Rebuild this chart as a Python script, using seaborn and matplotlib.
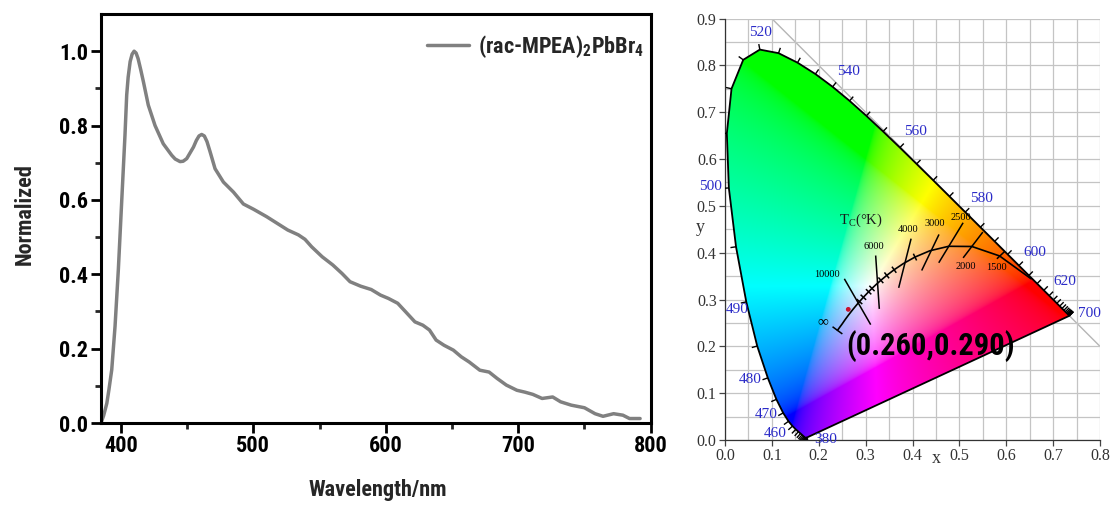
import numpy as np
import pandas as pd
import matplotlib
matplotlib.use("Agg")
import matplotlib.pyplot as plt
import seaborn as sns
from matplotlib import font_manager
from matplotlib.font_manager import FontProperties
from matplotlib.patches import Polygon
from matplotlib.collections import LineCollection
from matplotlib.ticker import FormatStrFormatter

# ---------------- data: PL spectrum ----------------
wavelength_nm = [385, 387, 389.4, 391, 393.1, 395.6, 398.1, 400.6, 403.1, 404.4, 405.5, 407,
                 408.5, 410, 411.5, 413, 415, 417, 420.7, 425.8, 432, 438.4, 441, 444.7,
                 447, 449.7, 452, 454.8, 457, 459, 461, 463, 465, 467.4, 471.1, 477.4, 485,
                 492.5, 500.1, 510, 518, 526, 534, 539, 544, 552, 560, 567, 573, 581, 589,
                 596, 602, 609, 615, 622, 628, 633, 638, 644, 651, 657, 663, 671, 678, 684,
                 691, 699, 705, 711, 718, 726, 732, 740, 750, 758, 764, 772, 779, 784, 792]
intensity = [0.0, 0.02, 0.053, 0.09, 0.143, 0.26, 0.413, 0.594, 0.774, 0.882, 0.93, 0.972,
             0.992, 1.0, 0.995, 0.98, 0.95, 0.918, 0.855, 0.80, 0.751, 0.72, 0.71, 0.703,
             0.704, 0.711, 0.725, 0.742, 0.76, 0.772, 0.776, 0.772, 0.757, 0.729, 0.684,
             0.648, 0.621, 0.589, 0.575, 0.555, 0.537, 0.519, 0.506, 0.494, 0.474, 0.447,
             0.425, 0.402, 0.380, 0.368, 0.359, 0.344, 0.335, 0.322, 0.299, 0.272, 0.263,
             0.25, 0.223, 0.209, 0.196, 0.178, 0.164, 0.142, 0.137, 0.12, 0.102, 0.088,
             0.083, 0.077, 0.066, 0.07, 0.057, 0.048, 0.041, 0.025, 0.018, 0.025, 0.021,
             0.012, 0.012]
legend_label = "(rac-MPEA)$_2$PbBr$_4$"
spec_xticks = [400, 500, 600, 700, 800]
spec_xminor = [450, 550, 650, 750]
spec_yticks = [0.0, 0.2, 0.4, 0.6, 0.8, 1.0]
spec_yminor = [0.1, 0.3, 0.5, 0.7, 0.9]

# ---------------- data: CIE 1931 diagram ----------------
locus_nm = list(range(380, 705, 5))
locus_x = [0.1741, 0.1740, 0.1738, 0.1736, 0.1733, 0.1730, 0.1726, 0.1721, 0.1714, 0.1703,
           0.1689, 0.1669, 0.1644, 0.1611, 0.1566, 0.1510, 0.1440, 0.1355, 0.1241, 0.1096,
           0.0913, 0.0687, 0.0454, 0.0235, 0.0082, 0.0039, 0.0139, 0.0389, 0.0743, 0.1142,
           0.1547, 0.1929, 0.2296, 0.2658, 0.3016, 0.3373, 0.3731, 0.4087, 0.4441, 0.4788,
           0.5125, 0.5448, 0.5752, 0.6029, 0.6270, 0.6482, 0.6658, 0.6801, 0.6915, 0.7006,
           0.7079, 0.7140, 0.7190, 0.7230, 0.7260, 0.7283, 0.7300, 0.7311, 0.7320, 0.7327,
           0.7334, 0.7340, 0.7344, 0.7346, 0.7347]
locus_y = [0.0050, 0.0050, 0.0049, 0.0049, 0.0048, 0.0048, 0.0048, 0.0048, 0.0051, 0.0058,
           0.0069, 0.0086, 0.0109, 0.0138, 0.0177, 0.0227, 0.0297, 0.0399, 0.0578, 0.0868,
           0.1327, 0.2007, 0.2950, 0.4127, 0.5384, 0.6548, 0.7502, 0.8120, 0.8338, 0.8262,
           0.8059, 0.7816, 0.7543, 0.7243, 0.6923, 0.6589, 0.6245, 0.5896, 0.5547, 0.5202,
           0.4866, 0.4544, 0.4242, 0.3965, 0.3725, 0.3514, 0.3340, 0.3197, 0.3083, 0.2993,
           0.2920, 0.2859, 0.2809, 0.2770, 0.2740, 0.2717, 0.2700, 0.2689, 0.2680, 0.2673,
           0.2666, 0.2660, 0.2656, 0.2654, 0.2653]
labeled_nm = [380, 460, 470, 480, 490, 500, 520, 540, 560, 580, 600, 620, 700]

planck_T = [1000, 1500, 2000, 2500, 3000, 3500, 4000, 4500, 5000, 5500, 6000, 6500, 7000,
            8000, 9000, 10000, 12000, 15000, 20000, 30000, "inf"]
planck_x = [0.6528, 0.5857, 0.5267, 0.4770, 0.4369, 0.4053, 0.3805, 0.3608, 0.3451, 0.3325,
            0.3221, 0.3135, 0.3064, 0.2952, 0.2869, 0.2807, 0.2720, 0.2637, 0.2565, 0.2501,
            0.2399]
planck_y = [0.3444, 0.3931, 0.4133, 0.4137, 0.4041, 0.3907, 0.3768, 0.3636, 0.3516, 0.3411,
            0.3318, 0.3237, 0.3166, 0.3048, 0.2956, 0.2884, 0.2778, 0.2672, 0.2574, 0.2481,
            0.2342]
small_tick_T = [9000, 8000, 7000, 6500, 5500, 5000, 4500, 3500]

iso_labels = ["10000", "6000", "4000", "3000", "2500", "2000", "1500"]
iso_x_top = [0.2546, 0.3214, 0.3970, 0.4565, 0.5080, 0.5500, 0.5970]
iso_y_top = [0.3443, 0.3940, 0.4300, 0.4390, 0.4640, 0.4440, 0.4030]
iso_x_bot = [0.3108, 0.3292, 0.3705, 0.4196, 0.4560, 0.5080, 0.5800]
iso_y_bot = [0.2464, 0.2800, 0.3250, 0.3620, 0.3785, 0.3890, 0.3870]

cie_xticks = [0.0, 0.1, 0.2, 0.3, 0.4, 0.5, 0.6, 0.7, 0.8]
cie_yticks = [0.0, 0.1, 0.2, 0.3, 0.4, 0.5, 0.6, 0.7, 0.8, 0.9]
cie_grid_x = [0.05, 0.15, 0.25, 0.35, 0.45, 0.55, 0.65, 0.75]
cie_grid_y = [0.05, 0.15, 0.25, 0.35, 0.45, 0.55, 0.65, 0.75, 0.85]
point_label = "(0.260,0.290)"
point_x = [0.263]
point_y = [0.279]

# ---------------- fonts ----------------
sns.set_style("ticks")
names = {f.name for f in font_manager.fontManager.ttflist}
narrow = None
for cand in ["Liberation Sans Narrow", "Roboto Condensed", "Open Sans Condensed", "Arial Narrow"]:
    if cand in names:
        narrow = cand
        break
bold_family = narrow if narrow else "Liberation Sans"
scale = 1.0 if narrow else 0.86
serif = ["Liberation Serif", "DejaVu Serif"]
plt.rcParams["font.family"] = ["Liberation Sans", "DejaVu Sans"]
plt.rcParams["mathtext.default"] = "regular"


def bold(size):
    return FontProperties(family=bold_family, weight="bold", size=size * scale)


fig = plt.figure(figsize=(11.15, 5.05), dpi=100)
ax1 = fig.add_axes([101 / 1115, 1 - 423 / 505, (650.7 - 101) / 1115, (423 - 14) / 505])
ax2 = fig.add_axes([725 / 1115, 1 - 440 / 505, 375 / 1115, (440 - 18.6) / 505])

# ---------------- left: spectrum ----------------
df = pd.DataFrame({"Wavelength": wavelength_nm, "Normalized": intensity, "Sample": legend_label})
sns.lineplot(data=df, x="Wavelength", y="Normalized", hue="Sample", palette=["#808080"],
             linewidth=2.5, ax=ax1, solid_joinstyle="round", solid_capstyle="round")
ax1.set_xlim(385, 800)
ax1.set_ylim(0, 1.1)
ax1.set_xticks(spec_xticks)
ax1.set_xticks(spec_xminor, minor=True)
ax1.set_yticks(spec_yticks)
ax1.set_yticks(spec_yminor, minor=True)
ax1.yaxis.set_major_formatter(FormatStrFormatter("%.1f"))
ax1.tick_params(which="major", direction="out", length=7, width=2, pad=2,
                top=False, right=False, colors="black")
ax1.tick_params(which="minor", direction="out", length=4, width=2, top=False, right=False)
for s in ax1.spines.values():
    s.set_linewidth(2.2)
    s.set_color("black")
    s.set_visible(True)
for lab in ax1.get_xticklabels() + ax1.get_yticklabels():
    lab.set_fontproperties(bold(16))
ax1.set_xlabel("Wavelength/nm", fontproperties=bold(16))
ax1.set_ylabel("Normalized", fontproperties=bold(16))
h, l = ax1.get_legend_handles_labels()
ax1.legend(h, l, loc="center right", bbox_to_anchor=(1.0, 0.92), frameon=False,
           prop=bold(16), handlelength=1.9, handletextpad=0.4, borderaxespad=0,
           borderpad=0.3)

# ---------------- right: CIE diagram ----------------
# colour fill
gx, gy = np.meshgrid(np.linspace(0, 0.8, 640), np.linspace(0, 0.9, 720))
gys = np.maximum(gy, 1e-4)
XYZ = np.stack([gx / gys, np.ones_like(gx), (1 - gx - gy) / gys])
M = np.array([[3.2406, -1.5372, -0.4986], [-0.9689, 1.8758, 0.0415], [0.0557, -0.2040, 1.0570]])
rgb = np.einsum("ij,jab->abi", M, XYZ)
rgb = np.clip(rgb, 0, None)
rgb = rgb / np.maximum(rgb.max(axis=2, keepdims=True), 1e-9)
rgb = np.where(rgb <= 0.0031308, 12.92 * rgb, 1.055 * np.power(rgb, 1 / 2.4) - 0.055)
rgb = np.clip(rgb, 0, 1)
im = ax2.imshow(rgb, extent=(0, 0.8, 0, 0.9), origin="lower", aspect="auto",
                interpolation="bilinear", zorder=1)
clip = Polygon(np.column_stack([locus_x, locus_y]), closed=True, facecolor="none",
               edgecolor="none", transform=ax2.transData)
ax2.add_patch(clip)
im.set_clip_path(clip)

# locus outline
outline = pd.DataFrame({"x": locus_x + [locus_x[0]], "y": locus_y + [locus_y[0]]})
sns.lineplot(data=outline, x="x", y="y", sort=False, estimator=None, color="black",
             linewidth=1.3, ax=ax2, zorder=3)

# x + y = 1 line
diag_x = np.array([0.1, 0.8])
ax2.plot(diag_x, 1 - diag_x, color="#b5b5b5", linewidth=1.0, zorder=0.5)

# wavelength ticks along the locus
lx = np.array(locus_x)
ly = np.array(locus_y)
tx = np.gradient(lx)
ty = np.gradient(ly)
tn = np.hypot(tx, ty) + 1e-12
nx, ny = -ty / tn, tx / tn
tick_len = 0.012
segs = [[(lx[i], ly[i]), (lx[i] + tick_len * nx[i], ly[i] + tick_len * ny[i])]
        for i in range(len(lx))]
ax2.add_collection(LineCollection(segs, colors="black", linewidths=1.0, zorder=3))

label_offsets = {380: (19, -2), 460: (-17, -7), 470: (-17, -2), 480: (-18, -2),
                 490: (-9, -8), 500: (-18, 1), 520: (1, 17), 540: (16, 15),
                 560: (16, 16), 580: (16, 14), 600: (16, 13), 620: (16, 14), 700: (20, 2)}
for nm in labeled_nm:
    i = locus_nm.index(nm)
    ax2.annotate(str(nm), (lx[i], ly[i]), xytext=label_offsets[nm], textcoords="offset pixels",
                 ha="center", va="center", family=serif, fontsize=11, color="#2b2bc8",
                 zorder=5)

# Planckian locus
planck = pd.DataFrame({"x": planck_x, "y": planck_y})
sns.lineplot(data=planck, x="x", y="y", sort=False, estimator=None, color="black",
             linewidth=1.2, ax=ax2, zorder=4)
px_ = np.array(planck_x)
py_ = np.array(planck_y)
ptx = np.gradient(px_)
pty = np.gradient(py_)
ptn = np.hypot(ptx, pty)
pnx, pny = -pty / ptn, ptx / ptn
psegs = []
for T in small_tick_T:
    i = planck_T.index(T)
    psegs.append([(px_[i] - 0.008 * pnx[i], py_[i] - 0.008 * pny[i]),
                  (px_[i] + 0.008 * pnx[i], py_[i] + 0.008 * pny[i])])
i = planck_T.index("inf")
psegs.append([(px_[i] - 0.013 * pnx[i], py_[i] - 0.013 * pny[i]),
              (px_[i] + 0.013 * pnx[i], py_[i] + 0.013 * pny[i])])
for k in range(len(iso_labels)):
    psegs.append([(iso_x_top[k], iso_y_top[k]), (iso_x_bot[k], iso_y_bot[k])])
ax2.add_collection(LineCollection(psegs, colors="black", linewidths=1.1, zorder=4))

iso_offsets = {"10000": ("top", (-17, 4)), "6000": ("top", (-2, 9)), "4000": ("top", (-3, 9)),
               "3000": ("top", (-4, 11)), "2500": ("top", (-2, 5)), "2000": ("bot", (3, -9)),
               "1500": ("bot", (0, -9))}
for k, lab in enumerate(iso_labels):
    end, off = iso_offsets[lab]
    xy = (iso_x_top[k], iso_y_top[k]) if end == "top" else (iso_x_bot[k], iso_y_bot[k])
    ax2.annotate(lab, xy, xytext=off, textcoords="offset pixels", ha="center", va="center",
                 family=serif, fontsize=7.5, color="black", zorder=5)
ax2.annotate("T$_\\mathregular{C}$(°K)", (0.29, 0.47), ha="center", va="center",
             family=serif, fontsize=10.5, color="#1a1a1a", zorder=5)
i = planck_T.index("inf")
ax2.annotate("∞", (px_[i], py_[i]), xytext=(-15, 9), textcoords="offset pixels",
             ha="center", va="center", family=serif, fontsize=11, color="black", zorder=5)

# sample point
sns.scatterplot(x=point_x, y=point_y, color="#c8102e", s=12, edgecolor="none", ax=ax2, zorder=6)
ax2.annotate(point_label, (point_x[0], point_y[0]), xytext=(82, -37),
             textcoords="offset pixels", ha="center", va="center",
             fontproperties=bold(22), color="black", zorder=7)

# axes styling for the CIE panel (after seaborn calls)
ax2.set_xlim(0, 0.8)
ax2.set_ylim(0, 0.9)
ax2.set_xticks(cie_xticks)
ax2.set_yticks(cie_yticks)
ax2.set_xticks(cie_grid_x, minor=True)
ax2.set_yticks(cie_grid_y, minor=True)
ax2.xaxis.set_major_formatter(FormatStrFormatter("%.1f"))
ax2.yaxis.set_major_formatter(FormatStrFormatter("%.1f"))
ax2.grid(which="both", color="#c4c4c4", linewidth=0.9, zorder=0)
ax2.set_axisbelow(True)
ax2.tick_params(which="major", direction="out", length=4, width=0.9, color="#444444",
                labelcolor="#333333", pad=2)
ax2.tick_params(which="minor", length=0)
for lab in ax2.get_xticklabels() + ax2.get_yticklabels():
    lab.set_family(serif)
    lab.set_fontsize(11.5)
for side in ["top", "right"]:
    ax2.spines[side].set_visible(False)
for side in ["left", "bottom"]:
    ax2.spines[side].set_color("#333333")
    ax2.spines[side].set_linewidth(0.9)
ax2.set_xlabel("x", family=serif, fontsize=13, color="#333333")
ax2.set_ylabel("y", family=serif, fontsize=13, color="#333333", rotation=0)

# label placement (after all set_*label calls)
ax1.xaxis.set_label_coords(0.504, -0.164)
ax1.xaxis.label.set_va("center")
ax1.yaxis.set_label_coords(-0.138, 0.511)
ax1.yaxis.label.set_va("center")
ax2.xaxis.set_label_coords(0.5625, -0.045)
ax2.xaxis.label.set_va("center")
ax2.yaxis.set_label_coords(-0.065, 0.505)
ax2.yaxis.label.set_va("center")

fig.savefig("out.png", dpi=100)
